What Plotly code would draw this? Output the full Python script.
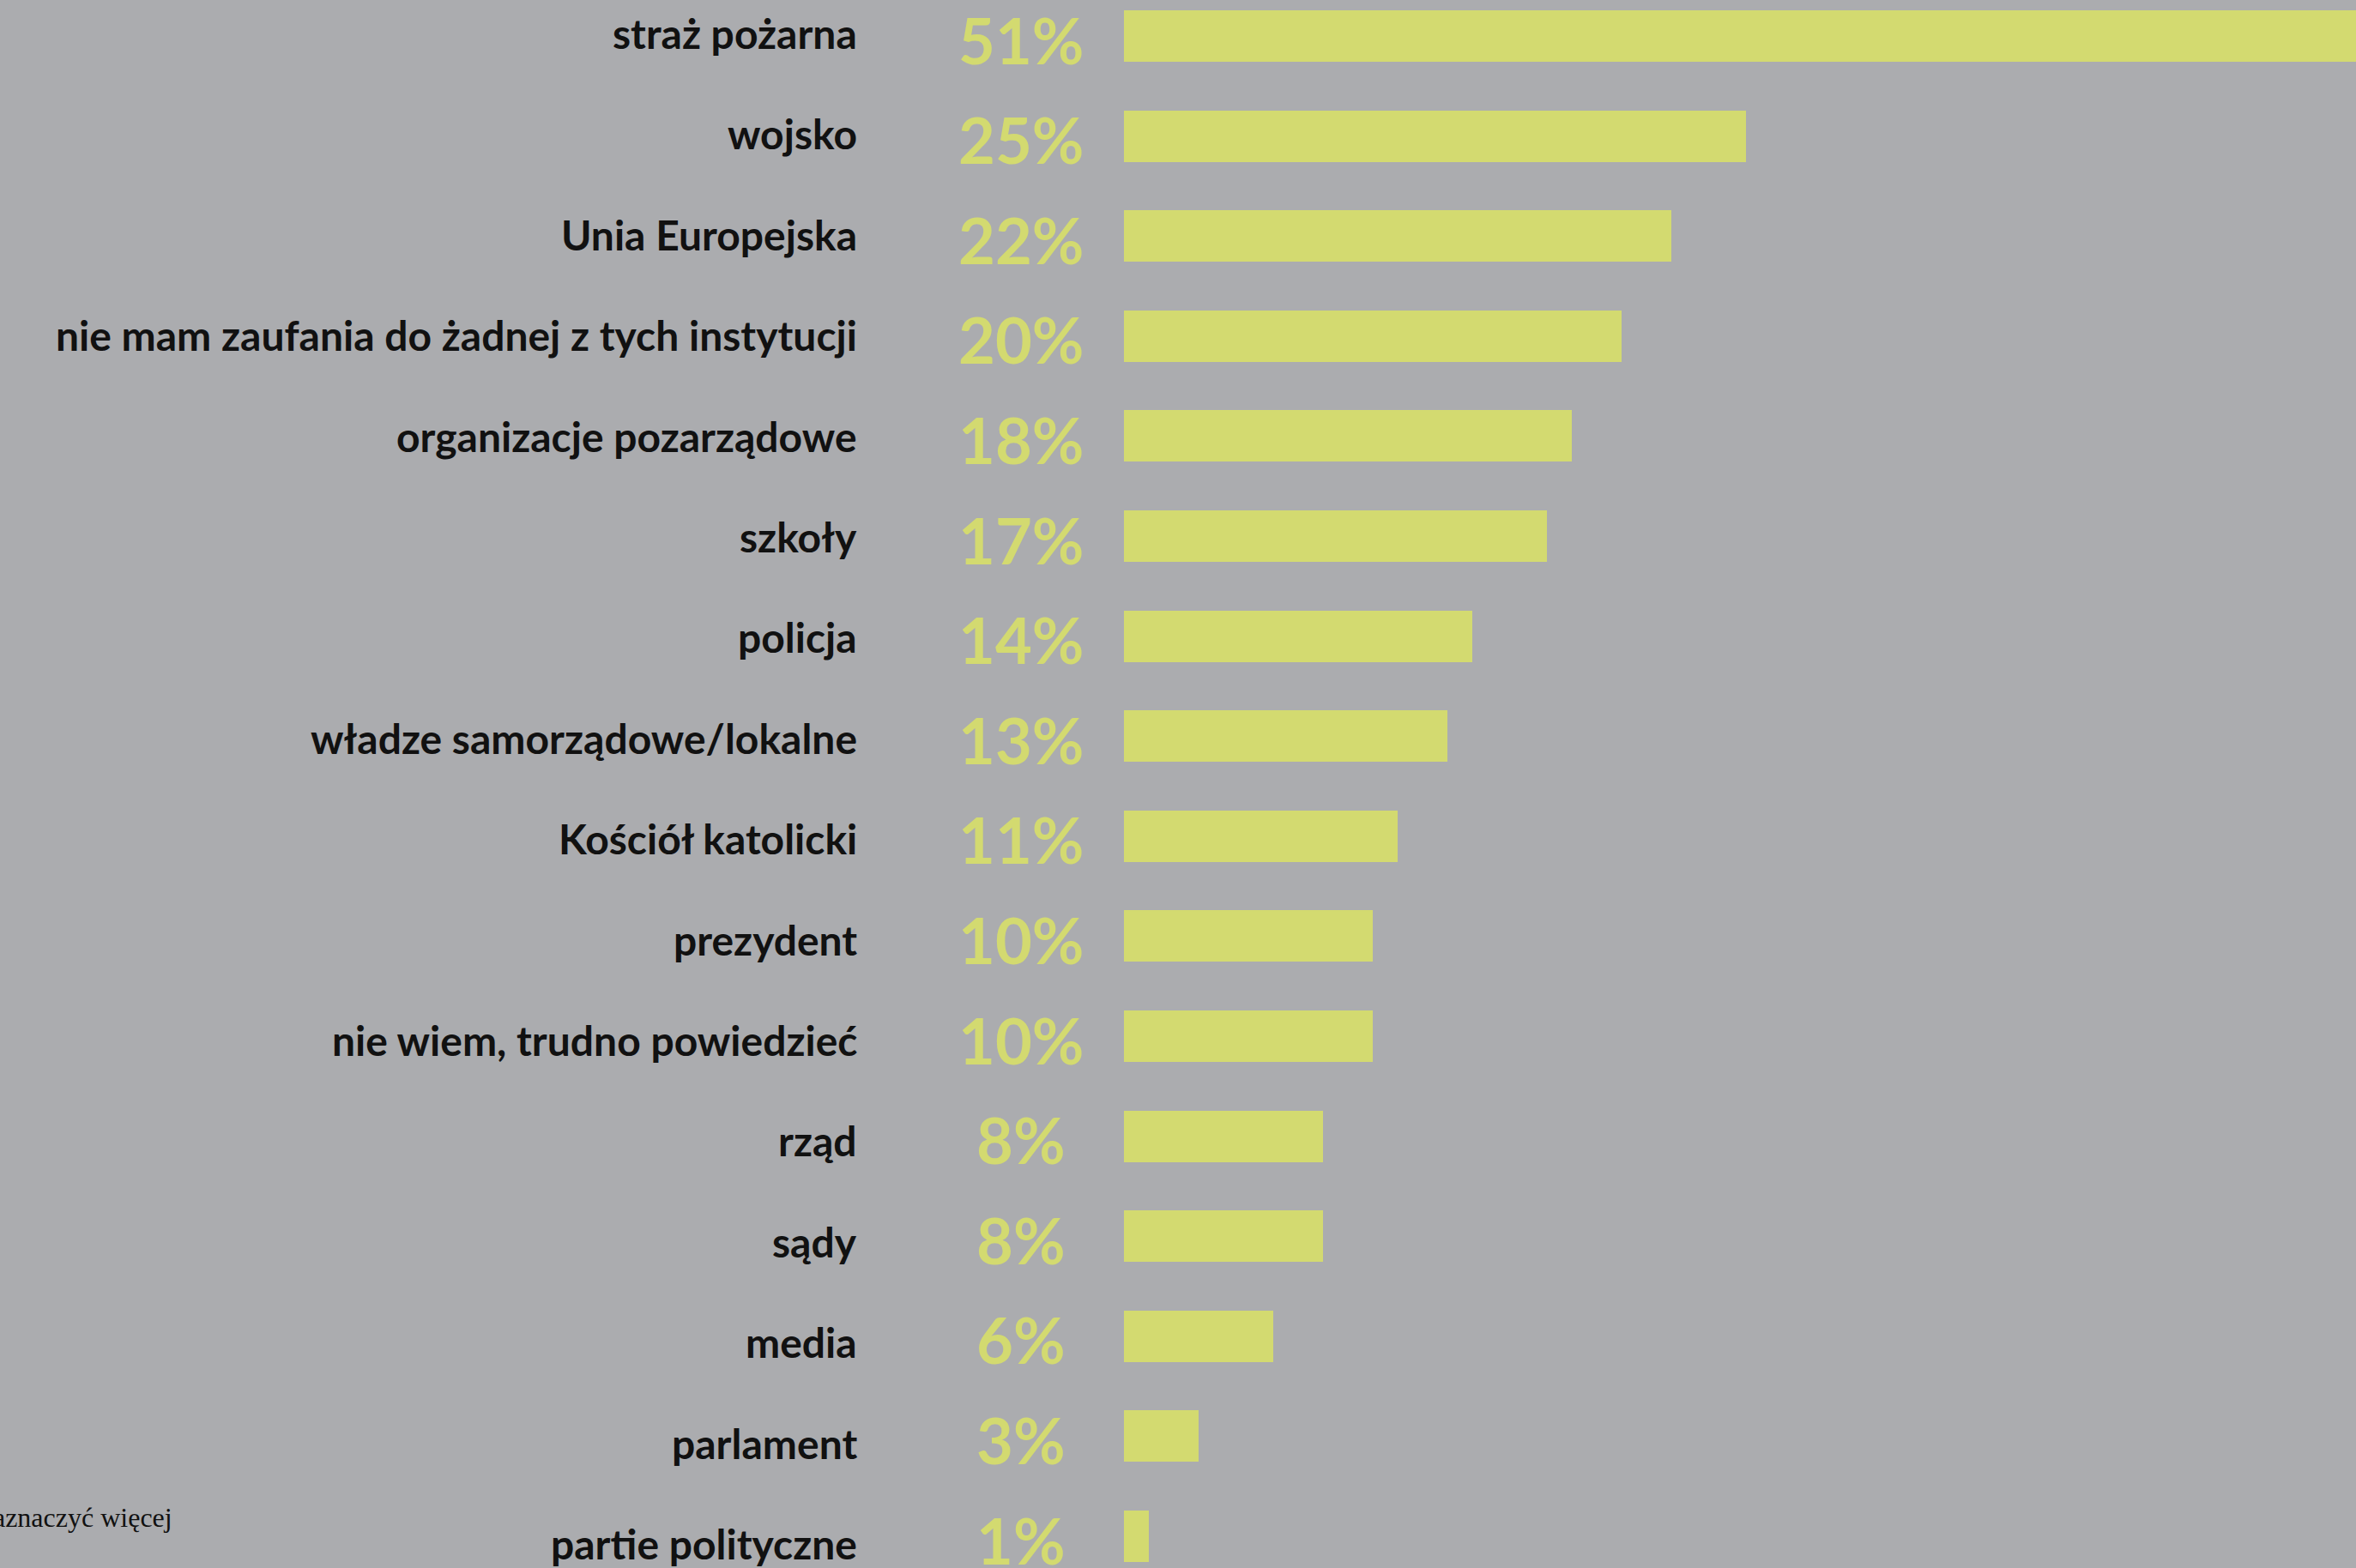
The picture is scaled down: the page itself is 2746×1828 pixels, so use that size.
import plotly.graph_objects as go

# Trust in institutions (% of respondents), top to bottom
categories = [
    "straż pożarna",
    "wojsko",
    "Unia Europejska",
    "nie mam zaufania do żadnej z tych instytucji",
    "organizacje pozarządowe",
    "szkoły",
    "policja",
    "władze samorządowe/lokalne",
    "Kościół katolicki",
    "prezydent",
    "nie wiem, trudno powiedzieć",
    "rząd",
    "sądy",
    "media",
    "parlament",
    "partie polityczne",
]
values = [51, 25, 22, 20, 18, 17, 14, 13, 11, 10, 10, 8, 8, 6, 3, 1]
value_labels = [f"{v}%" for v in values]

footnote_lines = ["Można było zaznaczyć więcej", "niż jedną odpowiedź, suma nie sumuje się do 100"]

W, H = 2746, 1828
BG = "#ABACAF"
BAR = "#D3DA70"
INK = "#111111"

row_px = 116.6          # vertical distance between rows
first_row_px = 42       # centre of the first row from the top
bar_x0_px = 1310        # where the bars start
px_per_pct = 29.0

y_top = -first_row_px / row_px
y_bottom = y_top + H / row_px
x_left = -bar_x0_px / px_per_pct
x_right = x_left + W / px_per_pct

fig = go.Figure()
fig.add_trace(go.Bar(
    x=values,
    y=categories,
    orientation="h",
    marker=dict(color=BAR, line=dict(width=0)),
    width=60 / row_px,
    hoverinfo="skip",
    showlegend=False,
))

annotations = []
for i, (cat, lab) in enumerate(zip(categories, value_labels)):
    # the text column runs on a slightly looser grid than the bars
    drift = 3.5 - 0.8 * i
    annotations.append(dict(
        x=1001 / W, xref="paper", y=cat, yref="y", yshift=drift,
        text=cat, showarrow=False, xanchor="right", yanchor="middle",
        font=dict(family="Lato", size=48, color=INK, weight=700),
    ))
    annotations.append(dict(
        x=1190 / W, xref="paper", y=cat, yref="y", yshift=-4,
        text=lab, showarrow=False, xanchor="center", yanchor="middle",
        font=dict(family="Lato", size=74, color=BAR, weight=700),
    ))

# footnote in the lower-left corner, partly running off the page
annotations.append(dict(
    x=203 / W, xref="paper", y=(H - 1781) / H, yref="paper",
    text=footnote_lines[0], showarrow=False, xanchor="right", yanchor="bottom",
    yshift=-8,
    font=dict(family="Liberation Serif", size=32, color=INK),
))
annotations.append(dict(
    x=6 / W, xref="paper", y=(H - 1822) / H, yref="paper",
    text=footnote_lines[1], showarrow=False, xanchor="right", yanchor="top",
    font=dict(family="Liberation Serif", size=32, color=INK),
))

fig.update_layout(
    width=W, height=H,
    margin=dict(l=0, r=0, t=0, b=0),
    paper_bgcolor=BG, plot_bgcolor=BG,
    bargap=0,
    xaxis=dict(range=[x_left, x_right], visible=False, fixedrange=True),
    yaxis=dict(
        type="category", categoryorder="array", categoryarray=categories,
        range=[y_bottom, y_top], visible=False, fixedrange=True,
    ),
    annotations=annotations,
)

fig.write_html("out.html", config={"displayModeBar": False})
